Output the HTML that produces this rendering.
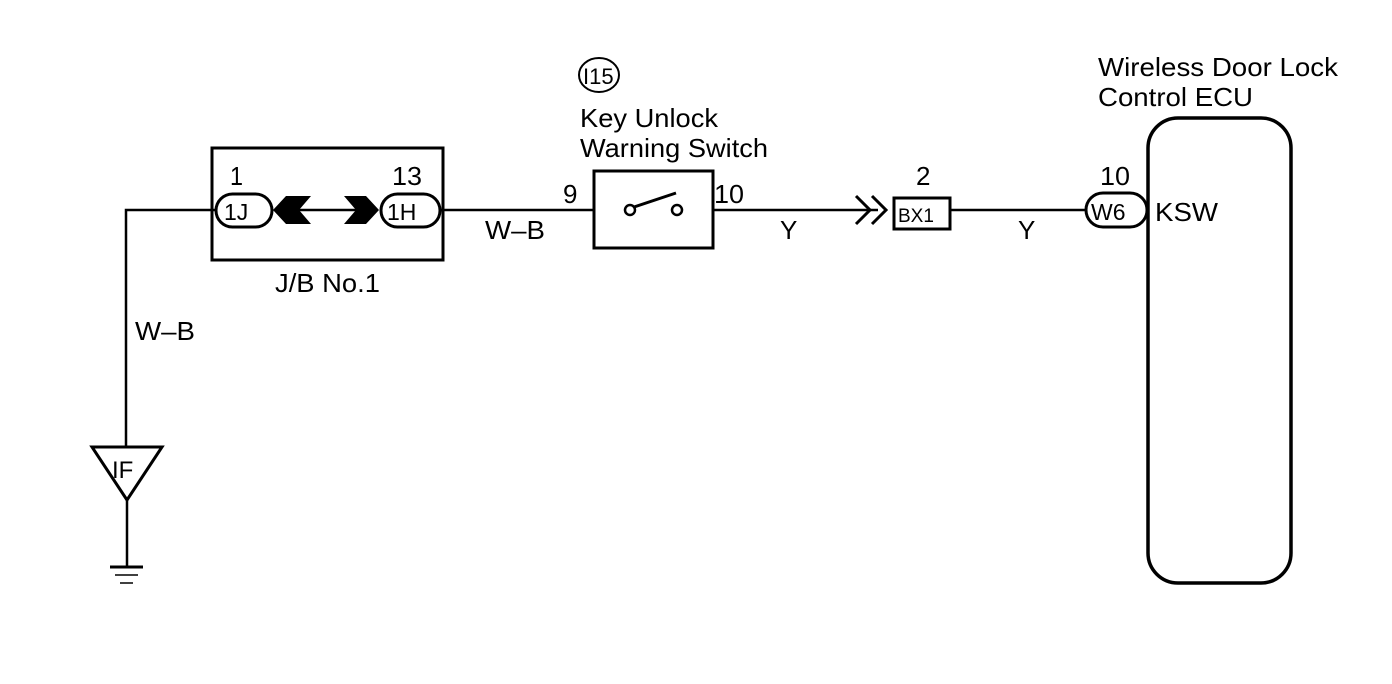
<!DOCTYPE html>
<html><head><style>html,body{margin:0;padding:0;background:#fff}svg{display:block}text{font-family:"Liberation Sans",Arial,sans-serif;fill:#000}</style></head>
<body>
<svg width="1392" height="684" viewBox="0 0 1392 684" xmlns="http://www.w3.org/2000/svg">
<g stroke="#000" fill="none" stroke-width="2.5">
<polyline points="215,210 126,210 126,447"/>
<polygon points="92,447 162,447 127,500" stroke-width="3"/>
<line x1="127" y1="500" x2="127" y2="566"/>
<line x1="110" y1="567" x2="143" y2="567" stroke-width="3"/>
<line x1="115" y1="575" x2="138" y2="575" stroke-width="1.5"/>
<line x1="120" y1="583" x2="133" y2="583" stroke-width="1.5"/>
<rect x="212" y="148" width="231" height="112" stroke-width="3"/>
<rect x="216" y="194" width="56" height="33" rx="16.5" stroke-width="3"/>
<rect x="381" y="194" width="59" height="33" rx="16.5" stroke-width="3"/>
<line x1="298" y1="210" x2="356" y2="210"/>
<line x1="440" y1="210" x2="593" y2="210"/>
<rect x="594" y="171" width="119" height="77" stroke-width="3"/>
<circle cx="630" cy="210" r="5"/>
<circle cx="677" cy="210" r="5"/>
<line x1="634" y1="207" x2="676" y2="193" stroke-width="3"/>
<line x1="713" y1="210" x2="878" y2="210"/>
<polyline points="856,196 870,210 856,224" stroke-width="3"/>
<polyline points="872,196 886,210 872,224" stroke-width="3"/>
<rect x="894" y="198" width="56" height="31" stroke-width="3"/>
<line x1="950" y1="210" x2="1086" y2="210"/>
<rect x="1086" y="193" width="61" height="34" rx="17" stroke-width="3"/>
<rect x="1148" y="118" width="143" height="465" rx="30" stroke-width="3.5"/>
<ellipse cx="599" cy="75" rx="20" ry="17" stroke-width="2"/>
</g>
<g fill="#000">
<polygon points="273,210 286,196 311,196 299,210 311,224 286,224"/>
<polygon points="379,210 366,196 344,196 356,210 344,224 366,224"/>
</g>
<g font-size="26">
<text x="230" y="185" textLength="13" lengthAdjust="spacingAndGlyphs">1</text>
<text x="392" y="185" textLength="30" lengthAdjust="spacingAndGlyphs">13</text>
<text x="224" y="220" font-size="23">1J</text>
<text x="387" y="220" font-size="23">1H</text>
<text x="275" y="292" textLength="105" lengthAdjust="spacingAndGlyphs">J/B No.1</text>
<text x="485" y="239" textLength="60" lengthAdjust="spacingAndGlyphs">W–B</text>
<text x="135" y="340" textLength="60" lengthAdjust="spacingAndGlyphs">W–B</text>
<text x="112" y="478" font-size="24">IF</text>
<text x="563" y="203">9</text>
<text x="714" y="203" textLength="30" lengthAdjust="spacingAndGlyphs">10</text>
<text x="583" y="84" font-size="22">I15</text>
<text x="580" y="127" textLength="138" lengthAdjust="spacingAndGlyphs">Key Unlock</text>
<text x="580" y="157" textLength="188" lengthAdjust="spacingAndGlyphs">Warning Switch</text>
<text x="780" y="239">Y</text>
<text x="916" y="185">2</text>
<text x="898" y="222" font-size="19">BX1</text>
<text x="1018" y="239">Y</text>
<text x="1100" y="185" textLength="30" lengthAdjust="spacingAndGlyphs">10</text>
<text x="1091" y="220" font-size="23">W6</text>
<text x="1155" y="221" textLength="63" lengthAdjust="spacingAndGlyphs">KSW</text>
<text x="1098" y="76" textLength="240" lengthAdjust="spacingAndGlyphs">Wireless Door Lock</text>
<text x="1098" y="106" textLength="155" lengthAdjust="spacingAndGlyphs">Control ECU</text>
</g>
</svg>
</body></html>
